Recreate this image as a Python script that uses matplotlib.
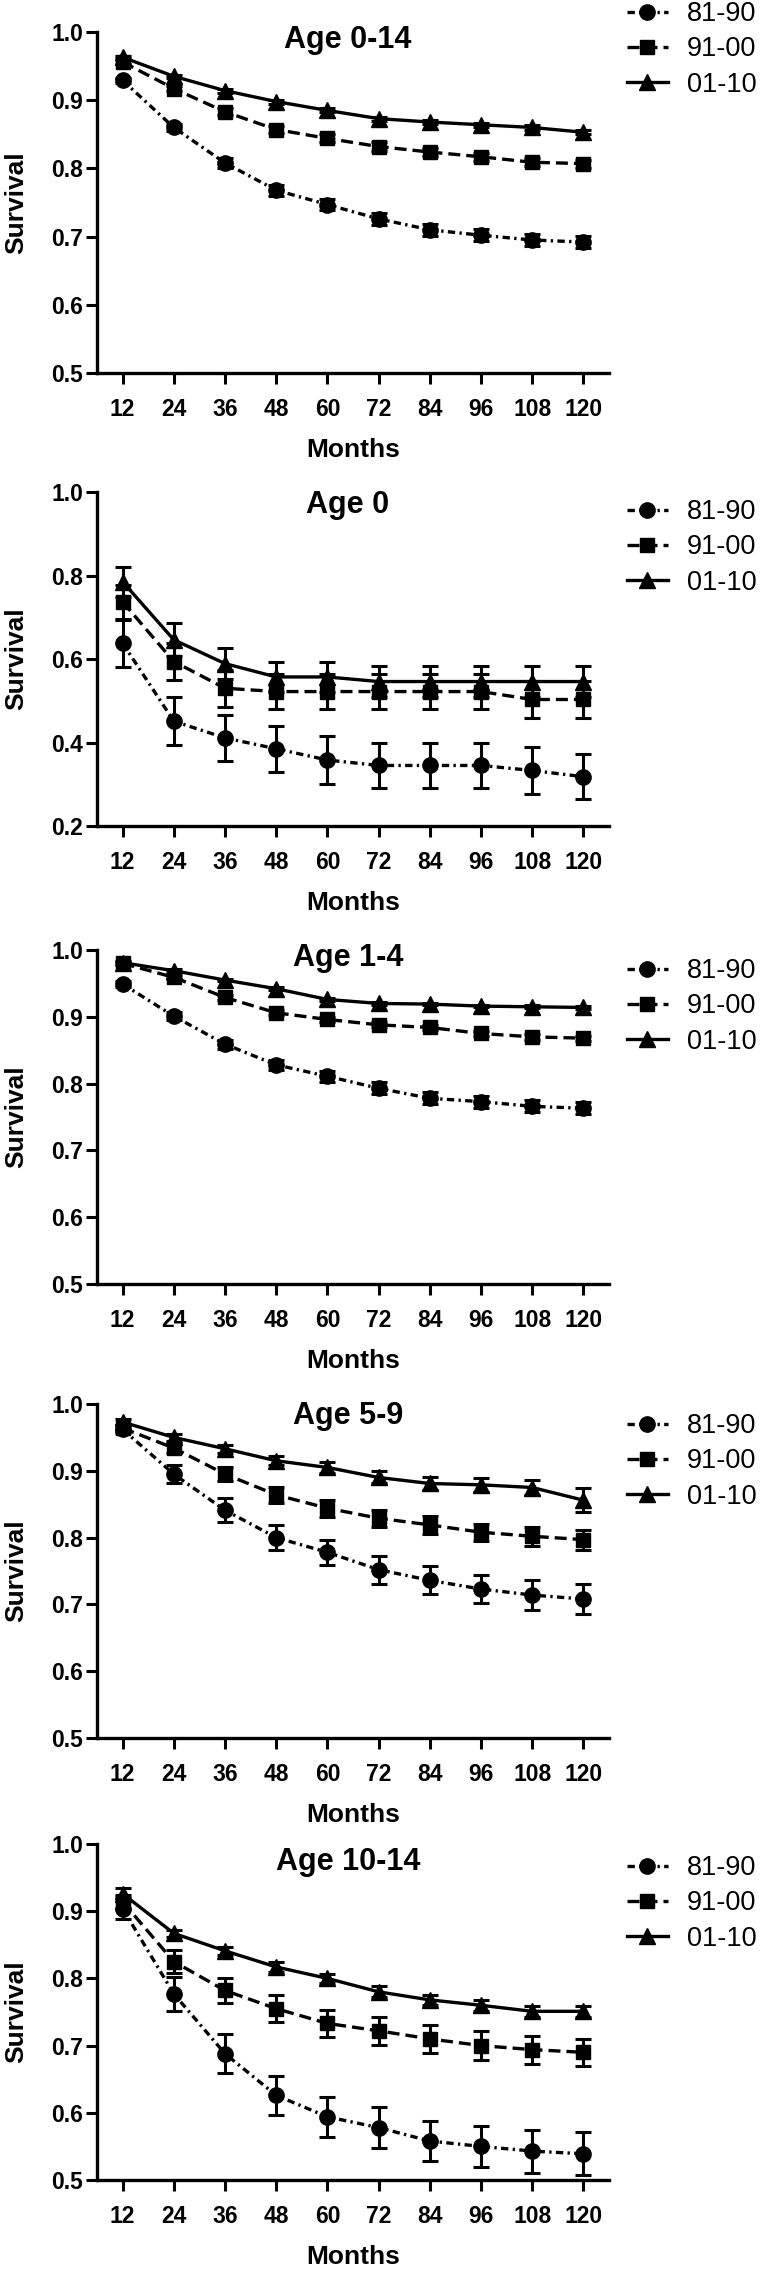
import matplotlib
matplotlib.use('Agg')
import matplotlib.pyplot as plt
from matplotlib.lines import Line2D
import numpy as np

plt.rcParams['font.family'] = ['Liberation Sans', 'DejaVu Sans']

months = [12, 24, 36, 48, 60, 72, 84, 96, 108, 120]
series = ['81-90', '91-00', '01-10']
titles = ['Age 0-14', 'Age 0', 'Age 1-4', 'Age 5-9', 'Age 10-14']

# Age 0-14
a014_8190 = [0.929, 0.860, 0.808, 0.768, 0.747, 0.726, 0.710, 0.702, 0.695, 0.692]
a014_9100 = [0.956, 0.917, 0.883, 0.857, 0.844, 0.832, 0.824, 0.817, 0.809, 0.807]
a014_0110 = [0.963, 0.935, 0.914, 0.898, 0.885, 0.873, 0.868, 0.864, 0.860, 0.853]
a014_8190_err = [0.004, 0.005, 0.007, 0.008, 0.008, 0.009, 0.009, 0.009, 0.009, 0.009]
a014_9100_err = [0.003, 0.004, 0.005, 0.005, 0.006, 0.006, 0.006, 0.006, 0.006, 0.006]
a014_0110_err = [0.002, 0.002, 0.003, 0.003, 0.003, 0.003, 0.003, 0.003, 0.003, 0.003]

# Age 0
a0_8190 = [0.638, 0.451, 0.411, 0.385, 0.358, 0.345, 0.345, 0.345, 0.333, 0.318]
a0_9100 = [0.737, 0.594, 0.530, 0.522, 0.522, 0.522, 0.522, 0.522, 0.503, 0.503]
a0_0110 = [0.785, 0.646, 0.589, 0.557, 0.557, 0.546, 0.546, 0.546, 0.546, 0.546]
a0_8190_err = [0.056, 0.057, 0.056, 0.055, 0.057, 0.054, 0.054, 0.054, 0.056, 0.054]
a0_9100_err = [0.040, 0.045, 0.044, 0.042, 0.042, 0.042, 0.042, 0.042, 0.044, 0.044]
a0_0110_err = [0.036, 0.040, 0.038, 0.037, 0.037, 0.038, 0.038, 0.038, 0.038, 0.038]

# Age 1-4
a14_8190 = [0.949, 0.901, 0.859, 0.828, 0.811, 0.793, 0.778, 0.773, 0.766, 0.763]
a14_9100 = [0.980, 0.959, 0.929, 0.906, 0.896, 0.888, 0.884, 0.875, 0.870, 0.868]
a14_0110 = [0.981, 0.969, 0.955, 0.942, 0.926, 0.920, 0.919, 0.916, 0.915, 0.914]
a14_8190_err = [0.004, 0.006, 0.007, 0.008, 0.008, 0.009, 0.009, 0.009, 0.009, 0.009]
a14_9100_err = [0.002, 0.003, 0.004, 0.004, 0.004, 0.004, 0.004, 0.004, 0.004, 0.004]
a14_0110_err = [0.002, 0.002, 0.002, 0.002, 0.002, 0.002, 0.002, 0.002, 0.002, 0.002]

# Age 5-9
a59_8190 = [0.962, 0.895, 0.841, 0.800, 0.778, 0.752, 0.736, 0.723, 0.714, 0.708]
a59_9100 = [0.964, 0.934, 0.895, 0.864, 0.844, 0.829, 0.819, 0.808, 0.802, 0.797]
a59_0110 = [0.973, 0.950, 0.933, 0.915, 0.905, 0.890, 0.881, 0.879, 0.875, 0.856]
a59_8190_err = [0.006, 0.013, 0.018, 0.019, 0.019, 0.021, 0.021, 0.021, 0.022, 0.022]
a59_9100_err = [0.005, 0.008, 0.010, 0.012, 0.013, 0.013, 0.013, 0.013, 0.014, 0.015]
a59_0110_err = [0.004, 0.005, 0.006, 0.007, 0.008, 0.009, 0.010, 0.010, 0.011, 0.018]

# Age 10-14
a1014_8190 = [0.904, 0.777, 0.688, 0.626, 0.594, 0.578, 0.558, 0.550, 0.543, 0.539]
a1014_9100 = [0.914, 0.825, 0.782, 0.755, 0.733, 0.722, 0.710, 0.700, 0.694, 0.690]
a1014_0110 = [0.926, 0.867, 0.841, 0.817, 0.800, 0.780, 0.768, 0.760, 0.751, 0.751]
a1014_8190_err = [0.016, 0.025, 0.029, 0.029, 0.030, 0.031, 0.030, 0.031, 0.032, 0.032]
a1014_9100_err = [0.010, 0.017, 0.019, 0.020, 0.020, 0.021, 0.021, 0.021, 0.021, 0.020]
a1014_0110_err = [0.008, 0.005, 0.006, 0.007, 0.007, 0.008, 0.008, 0.008, 0.008, 0.008]

panels = [
    ([a014_8190, a014_9100, a014_0110], [a014_8190_err, a014_9100_err, a014_0110_err], (0.5, 1.0), np.arange(0.5, 1.01, 0.1)),
    ([a0_8190, a0_9100, a0_0110], [a0_8190_err, a0_9100_err, a0_0110_err], (0.2, 1.0), np.arange(0.2, 1.01, 0.2)),
    ([a14_8190, a14_9100, a14_0110], [a14_8190_err, a14_9100_err, a14_0110_err], (0.5, 1.0), np.arange(0.5, 1.01, 0.1)),
    ([a59_8190, a59_9100, a59_0110], [a59_8190_err, a59_9100_err, a59_0110_err], (0.5, 1.0), np.arange(0.5, 1.01, 0.1)),
    ([a1014_8190, a1014_9100, a1014_0110], [a1014_8190_err, a1014_9100_err, a1014_0110_err], (0.5, 1.0), np.arange(0.5, 1.01, 0.1)),
]

# layout in pixels (top, bottom of each plot area), title offset, legend first row
W, H = 761, 2269
tops = [32, 492, 950, 1404, 1844]
bottoms = [373, 826, 1284, 1738, 2180]
title_y = [40, 505, 958, 1416, 1862]
legend_y = [15, 513, 972, 1427, 1869]
x0, x1 = 97, 609

styles = [
    dict(marker='o', ms=11, ls=(0, (2.2, 1.3, 0.7, 1.3))),
    dict(marker='s', ms=10.5, ls=(0, (3.6, 1.8))),
    dict(marker='^', ms=11.5, ls='-'),
]

fig = plt.figure(figsize=(W / 100, H / 100), dpi=100)

for i, (vals, errs, ylim, yticks) in enumerate(panels):
    t, b = tops[i], bottoms[i]
    ax = fig.add_axes([x0 / W, 1 - b / H, (x1 - x0) / W, (b - t) / H])
    for v, e, st in zip(vals, errs, styles):
        ax.errorbar(months, v, yerr=e, color='black', lw=2.4, marker=st['marker'],
                    ms=st['ms'], ls=st['ls'], capsize=6, elinewidth=2.2,
                    capthick=2.2, clip_on=False)
    ax.set_xlim(6, 126)
    ax.set_ylim(*ylim)
    ax.set_xticks(months)
    ax.set_yticks(yticks)
    ax.set_yticklabels(['%.1f' % y for y in yticks])
    for s in ['top', 'right']:
        ax.spines[s].set_visible(False)
    for s in ['left', 'bottom']:
        ax.spines[s].set_linewidth(2.4)
    ax.tick_params(axis='both', width=2.2, length=8, labelsize=16.5)
    ax.tick_params(axis='x', pad=10)
    ax.tick_params(axis='y', pad=2)
    for lab in ax.get_xticklabels() + ax.get_yticklabels():
        lab.set_fontweight('bold')
    ax.set_xlabel('Months', fontsize=19, fontweight='bold')
    ax.set_ylabel('Survival', fontsize=19, fontweight='bold')
    h = b - t
    ax.xaxis.set_label_coords(0.5, -(438 - 373) / h)
    ax.yaxis.set_label_coords((4 - x0) / (x1 - x0), 0.5)
    ax.yaxis.label.set_va('top')
    ax.text(0.49, 1 - (title_y[i] - t) / h, titles[i], transform=ax.transAxes,
            ha='center', va='center', fontsize=22, fontweight='bold')

    handles = [Line2D([], [], color='black', lw=2.4, marker=st['marker'], ms=st['ms'], ls=st['ls'])
               for st in styles]
    fig.legend(handles, series, loc='upper left', frameon=False,
               bbox_to_anchor=(627 / W, 1 - (legend_y[i] - 14) / H),
               bbox_transform=fig.transFigure, fontsize=19.5, borderpad=0,
               borderaxespad=0, handlelength=1.5, handletextpad=0.7,
               labelspacing=0.35)

fig.savefig('out.png', dpi=100)
